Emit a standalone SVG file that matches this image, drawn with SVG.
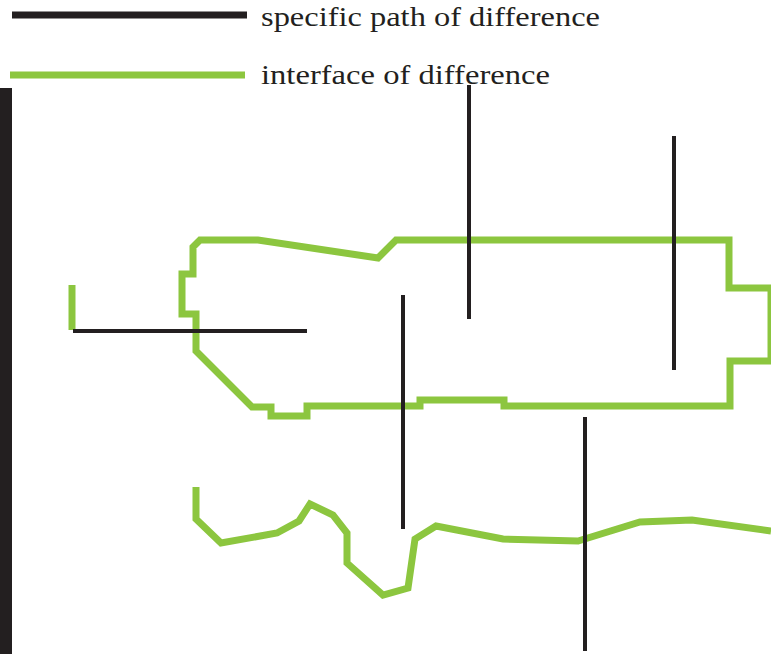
<svg xmlns="http://www.w3.org/2000/svg" width="771" height="654" viewBox="0 0 771 654">
<style>
.g{fill:none;stroke:#8cc63f;stroke-width:7;stroke-linejoin:miter;stroke-linecap:butt}
.k{fill:none;stroke:#231f20;stroke-width:4}
.t{font-family:"Liberation Serif","DejaVu Serif",serif;font-size:27px;fill:#231f20}
</style>
<rect width="771" height="654" fill="#ffffff"/>
<g id="legend">
<line x1="12" y1="15" x2="247" y2="15" stroke="#231f20" stroke-width="7"/>
<text class="t" x="261" y="26" textLength="339" lengthAdjust="spacingAndGlyphs">specific path of difference</text>
<line x1="10" y1="75" x2="245" y2="75" stroke="#8cc63f" stroke-width="7"/>
<text class="t" x="261" y="84" textLength="289" lengthAdjust="spacingAndGlyphs">interface of difference</text>
</g>
<g id="left-bar"><rect x="0" y="88" width="12" height="566" fill="#231f20"/></g>
<g id="interfaces">
<path class="g" d="M771,288 L729,288 L729,240 L396,240 L378,258 L258,240 L200,240 L193,247 L193,274 L182,274 L182,314 L196,314 L196,351 L252,407 L271,407 L271,416 L307,416 L307,406 L420,406 L420,400 L504,400 L504,406 L730,406 L730,361 L771,361"/>
<line class="g" x1="771" y1="288" x2="771" y2="361" stroke-width="3"/>
<line class="g" x1="72" y1="285" x2="72" y2="330"/>
<path class="g" d="M196,487 L196,519 L221,543 L277,533 L299,521 L310,504 L333,515 L347,533 L347,563 L383,595 L408,588 L415,539 L436,526 L503,539 L578,541 L640,522 L692,520 L771,531"/>
</g>
<g id="connectors">
<line class="k" x1="73" y1="331" x2="307" y2="331"/>
<line class="k" x1="469" y1="85" x2="469" y2="319"/>
<line class="k" x1="674" y1="136" x2="674" y2="370"/>
<line class="k" x1="403" y1="295" x2="403" y2="529"/>
<line class="k" x1="585" y1="417" x2="585" y2="651"/>
</g>
</svg>
